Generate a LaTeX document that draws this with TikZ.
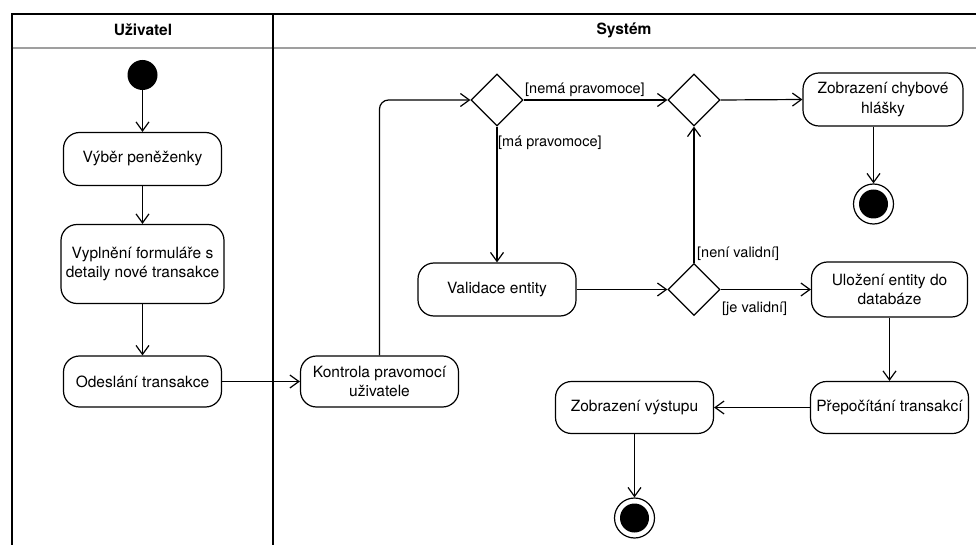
\documentclass[tikz,border=0pt]{standalone}
\usepackage{fontspec}
\setmainfont{TeX Gyre Heros}
\usetikzlibrary{arrows.meta,shapes.geometric}

\tikzset{
  action/.style={draw, line width=1.2pt, rounded corners=16pt, align=center,
    inner sep=0pt, font=\fontsize{15.5}{19.5}\selectfont},
  decision/.style={draw, line width=1.2pt, diamond, aspect=1, inner sep=0pt,
    minimum width=52pt, minimum height=52pt},
  initial/.style={circle, fill=black, inner sep=0pt, minimum size=30pt},
  final/.style={circle, draw, line width=1.2pt, inner sep=0pt, minimum size=40pt,
    path picture={\fill[black] (path picture bounding box.center) circle (14.5pt);}},
  flow/.style={draw, line width=1.2pt, -{Straight Barb[length=9pt,width=13pt,line width=1.2pt]}},
  guard/.style={font=\fontsize{14.5}{17}\selectfont, inner sep=0pt, anchor=west},
  lanehead/.style={font=\fontsize{15.5}{18}\selectfont\bfseries},
  lane/.style={line width=1.3pt},
}

\begin{document}
\begin{tikzpicture}[x=1pt, y=-1pt]
\useasboundingbox (0,0) rectangle (976,545);

% swimlanes
\draw[lane] (12,545) -- (12,14) -- (976,14);
\draw[lane] (273,14) -- (273,545);
\draw[line width=1.3pt, gray!75] (12.7,48) -- (272.3,48) (273.7,48) -- (976,48);
\node[lanehead] (hUser) at (143,30) {Uživatel};
\node[lanehead] (hSys) at (624,30) {Systém};

% nodes of the user lane
\node[initial] (start) at (142.5,75) {};
\node[action, minimum width=158pt, minimum height=53pt] (vyber) at (142.5,159) {Výběr peněženky};
\node[action, minimum width=163pt, minimum height=79pt] (vyplneni) at (142.5,264) {Vyplnění formuláře s\\detaily nové transakce};
\node[action, minimum width=158pt, minimum height=51pt] (odeslani) at (142.5,381.5) {Odeslání transakce};

% nodes of the system lane
\node[action, minimum width=158pt, minimum height=51pt] (kontrola) at (379.5,381.5) {Kontrola pravomocí\\uživatele};
\node[decision] (d1) at (497,100) {};
\node[decision] (d2) at (694,100) {};
\node[action, minimum width=160pt, minimum height=53pt] (chyba) at (883,99.5) {Zobrazení chybové\\hlášky};
\node[final] (end1) at (873.5,204) {};
\node[action, minimum width=158pt, minimum height=53pt] (validace) at (497,289.5) {Validace entity};
\node[decision] (d3) at (694,289.5) {};
\node[action, minimum width=156pt, minimum height=55pt] (ulozeni) at (889.5,289.5) {Uložení entity do\\databáze};
\node[action, minimum width=158pt, minimum height=52pt] (prepocitani) at (889.5,407.5) {Přepočítání transakcí};
\node[action, minimum width=158pt, minimum height=52pt] (vystup) at (634.5,407.5) {Zobrazení výstupu};
\node[final] (end2) at (634.5,518) {};

% control flows
\draw[flow] (start) -- (vyber);
\draw[flow] (vyber) -- (vyplneni);
\draw[flow] (vyplneni) -- (odeslani);
\draw[flow] (odeslani) -- (kontrola);
\draw[flow, rounded corners=9pt] (kontrola.north) |- (d1.west);
\draw[flow] (d1.east) -- (d2.west);
\draw[flow] (d1.south) -- (validace.north);
\draw[flow] (d2.east) -- (chyba.west);
\draw[flow] (end1 |- chyba.south) -- (end1.north);
\draw[flow] (validace.east) -- (d3.west);
\draw[flow] (d3.east) -- (ulozeni.west);
\draw[flow] (d3.north) -- (d2.south);
\draw[flow] (ulozeni.south) -- (prepocitani.north);
\draw[flow] (prepocitani.west) -- (vystup.east);
\draw[flow] (vystup.south) -- (end2.north);

% guards
\node[guard] (gNema) at (525,90) {[nemá pravomoce]};
\node[guard] (gMa) at (498,143) {[má pravomoce]};
\node[guard] (gNeni) at (697,254) {[není validní]};
\node[guard] (gJe) at (722,309) {[je validní]};
\end{tikzpicture}
\end{document}
